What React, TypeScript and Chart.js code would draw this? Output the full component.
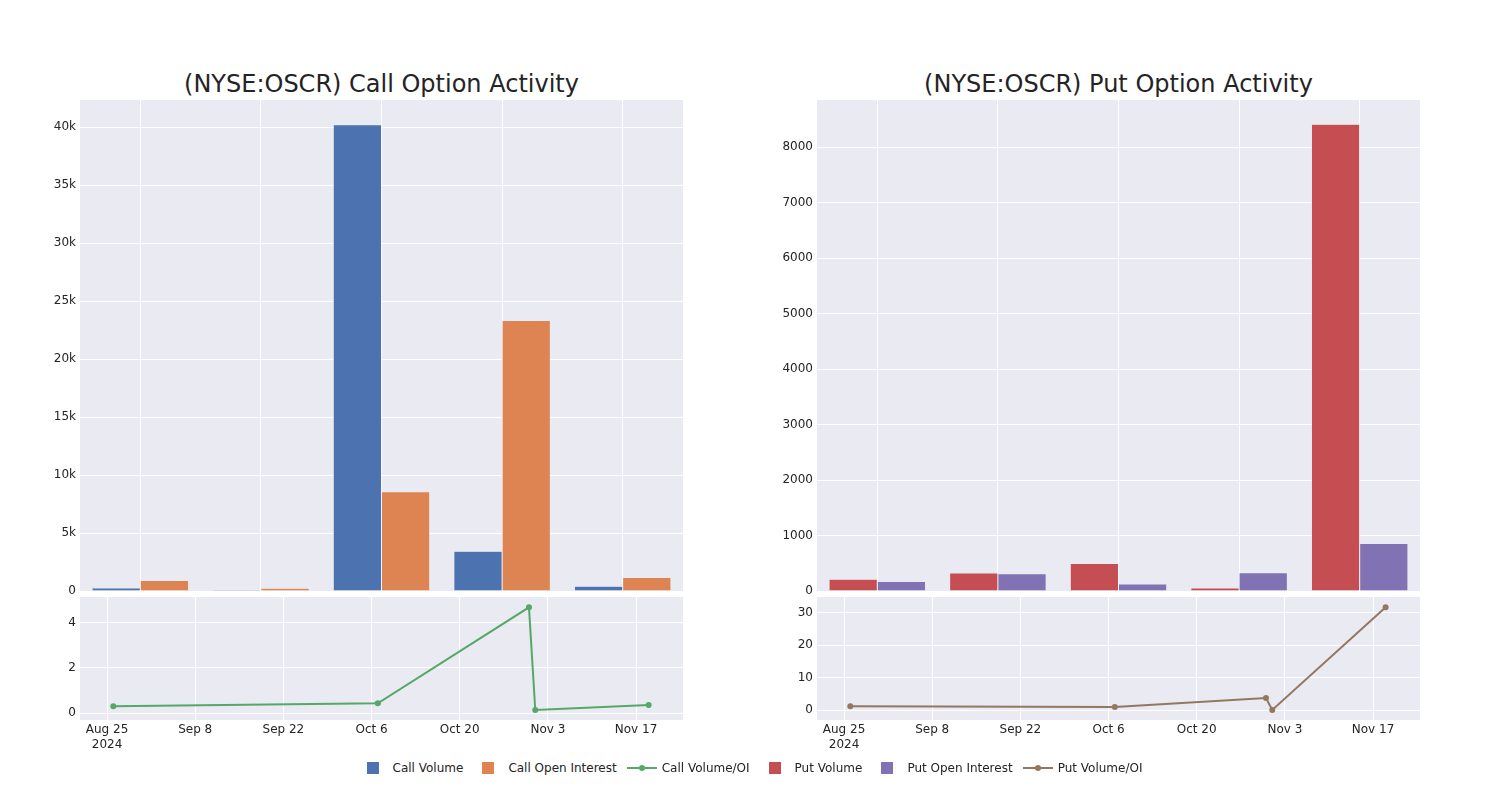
import React, { useEffect, useRef } from 'react';
import { Chart, registerables } from 'chart.js';

Chart.register(...registerables);

// ---------------- data ----------------
const barCategories = ['2024-08-26', '2024-10-07', '2024-10-31', '2024-11-01', '2024-11-19'];
const callVolume = [265, 100, 40200, 3420, 420];
const callOpenInterest = [900, 230, 8560, 23330, 1170];
const putVolume = [211, 325, 494, 55, 8414];
const putOpenInterest = [170, 313, 127, 331, 855];

const ratioDates = ['2024-08-26', '2024-10-07', '2024-10-31', '2024-11-01', '2024-11-19'];
const callRatio = [0.31, 0.44, 4.67, 0.145, 0.365];
const putRatio = [1.22, 1.0, 3.76, 0.1, 31.6];

const dateTicks = ['2024-08-25', '2024-09-08', '2024-09-22', '2024-10-06', '2024-10-20', '2024-11-03', '2024-11-17'];
const callBarTicks = [0, 5000, 10000, 15000, 20000, 25000, 30000, 35000, 40000];
const putBarTicks = [0, 1000, 2000, 3000, 4000, 5000, 6000, 7000, 8000];
const callRatioTicks = [0, 2, 4];
const putRatioTicks = [0, 10, 20, 30];

const dateRange = ['2024-08-20T17:00:00Z', '2024-11-24T11:00:00Z'];
const callBarRange = [0, 42340];
const putBarRange = [0, 8853];
const callRatioRange = [-0.295, 5.125];
const putRatioRange = [-2.97, 34.77];

// ---------------- styles ----------------
const COLORS = {
  callVol: '#4C72B0',
  callOI: '#DD8452',
  callRatio: '#55A868',
  putVol: '#C44E52',
  putOI: '#8172B3',
  putRatio: '#937860',
};
const PLOT_BG = '#EAEAF2';
const TEXT = 'rgb(36,36,36)';
const FONT = 'DejaVu Sans';
const MONTHS = ['Jan', 'Feb', 'Mar', 'Apr', 'May', 'Jun', 'Jul', 'Aug', 'Sep', 'Oct', 'Nov', 'Dec'];

const bgPlugin = {
  id: 'plotBg',
  beforeDraw(chart: any) {
    const { ctx, chartArea } = chart;
    if (!chartArea) return;
    ctx.save();
    ctx.fillStyle = PLOT_BG;
    ctx.fillRect(chartArea.left, chartArea.top, chartArea.right - chartArea.left, chartArea.bottom - chartArea.top);
    ctx.restore();
  },
};

const fixTicks = (vals: number[]) => (scale: any) => {
  scale.ticks = vals.map((v) => ({ value: v }));
};

function barConfig(labels: string[], vol: number[], oi: number[], volLabel: string, oiLabel: string, volColor: string, oiColor: string, range: number[], ticks: number[], fmt: (v: number) => string) {
  return {
    type: 'bar',
    data: {
      labels,
      datasets: [
        { label: volLabel, data: vol, backgroundColor: volColor, borderColor: PLOT_BG, borderWidth: 0.5, categoryPercentage: 0.8, barPercentage: 1.0 },
        { label: oiLabel, data: oi, backgroundColor: oiColor, borderColor: PLOT_BG, borderWidth: 0.5, categoryPercentage: 0.8, barPercentage: 1.0 },
      ],
    },
    options: {
      responsive: false,
      animation: false,
      layout: { autoPadding: false, padding: { top: 12, bottom: 12, left: 0, right: 0 } },
      plugins: { legend: { display: false }, tooltip: { enabled: false }, title: { display: false } },
      scales: {
        x: {
          type: 'category',
          offset: true,
          grid: { color: '#ffffff', lineWidth: 1, offset: false, drawTicks: false },
          border: { display: false },
          ticks: { display: false },
          afterFit: (s: any) => { s.height = 0; s.paddingLeft = 0; s.paddingRight = 0; },
        },
        y: {
          type: 'linear',
          min: range[0],
          max: range[1],
          grid: { color: '#ffffff', lineWidth: 1, drawTicks: false },
          border: { display: false },
          afterBuildTicks: fixTicks(ticks),
          ticks: { padding: 4, color: TEXT, font: { family: FONT, size: 12 }, callback: (v: any) => fmt(Number(v)) },
          afterFit: (s: any) => { s.width = 60; },
        },
      },
    },
    plugins: [bgPlugin],
  };
}

function lineConfig(label: string, dates: string[], vals: number[], color: string, range: number[], ticks: number[]) {
  const pts = dates.map((d, i) => ({ x: Date.parse(d + 'T00:00:00Z'), y: vals[i] }));
  const tickVals = dateTicks.map((d) => Date.parse(d + 'T00:00:00Z'));
  return {
    type: 'line',
    data: {
      datasets: [
        {
          label,
          data: pts,
          borderColor: color,
          backgroundColor: color,
          borderWidth: 2,
          pointRadius: 3,
          pointBorderWidth: 0,
          pointBackgroundColor: color,
          tension: 0,
        },
      ],
    },
    options: {
      responsive: false,
      animation: false,
      layout: { autoPadding: false, padding: { top: 12, bottom: 0, left: 0, right: 0 } },
      plugins: { legend: { display: false }, tooltip: { enabled: false }, title: { display: false } },
      scales: {
        x: {
          type: 'linear',
          min: Date.parse(dateRange[0]),
          max: Date.parse(dateRange[1]),
          grid: { color: '#ffffff', lineWidth: 1, drawTicks: false },
          border: { display: false },
          afterBuildTicks: fixTicks(tickVals),
          ticks: {
            padding: 3,
            maxRotation: 0,
            autoSkip: false,
            color: TEXT,
            font: { family: FONT, size: 12 },
            callback: (v: any, i: number) => {
              const d = new Date(Number(v));
              const s = `${MONTHS[d.getUTCMonth()]} ${d.getUTCDate()}`;
              return i === 0 ? [s, String(d.getUTCFullYear())] : s;
            },
          },
          afterFit: (s: any) => { s.height = 40; s.paddingLeft = 0; s.paddingRight = 0; },
        },
        y: {
          type: 'linear',
          min: range[0],
          max: range[1],
          grid: { color: '#ffffff', lineWidth: 1, drawTicks: false },
          border: { display: false },
          afterBuildTicks: fixTicks(ticks),
          ticks: { padding: 4, color: TEXT, font: { family: FONT, size: 12 }, callback: (v: any) => String(v) },
          afterFit: (s: any) => { s.width = 60; },
        },
      },
    },
    plugins: [bgPlugin],
  };
}

function ChartCanvas({ make, left, top, width, height }: { make: () => any; left: number; top: number; width: number; height: number }) {
  const ref = useRef<HTMLCanvasElement | null>(null);
  useEffect(() => {
    if (!ref.current) return;
    const chart = new Chart(ref.current, make());
    return () => chart.destroy();
  }, []);
  return (
    <canvas
      ref={ref}
      width={width}
      height={height}
      style={{ position: 'absolute', left, top, width, height }}
    />
  );
}

function LegendItem({ label, color, kind }: { label: string; color: string; kind: 'bar' | 'line' }) {
  return (
    <div style={{ display: 'flex', alignItems: 'center', marginRight: 5 }}>
      <div style={{ width: 40, height: 16, display: 'flex', alignItems: 'center', justifyContent: 'center' }}>
        {kind === 'bar' ? (
          <div style={{ width: 12, height: 12, background: color }} />
        ) : (
          <svg width={30} height={12}>
            <line x1={0} y1={6} x2={30} y2={6} stroke={color} strokeWidth={2} />
            <circle cx={15} cy={6} r={3} fill={color} />
          </svg>
        )}
      </div>
      <span style={{ whiteSpace: 'nowrap' }}>{label}</span>
    </div>
  );
}

const titleStyle = (center: number): React.CSSProperties => ({
  position: 'absolute',
  top: 72,
  left: center - 300,
  width: 600,
  textAlign: 'center',
  fontFamily: FONT,
  fontSize: 24,
  lineHeight: '24px',
  color: TEXT,
  whiteSpace: 'nowrap',
});

export default function App() {
  const callFmt = (v: number) => (v === 0 ? '0' : `${v / 1000}k`);
  const putFmt = (v: number) => String(v);
  return (
    <div style={{ position: 'absolute', left: 0, top: 0, width: 1500, height: 800, background: '#ffffff', overflow: 'hidden' }}>
      <div style={titleStyle(381.5)}>(NYSE:OSCR) Call Option Activity</div>
      <div style={titleStyle(1118.5)}>(NYSE:OSCR) Put Option Activity</div>

      <ChartCanvas
        left={20}
        top={88}
        width={663}
        height={515}
        make={() => barConfig(barCategories, callVolume, callOpenInterest, 'Call Volume', 'Call Open Interest', COLORS.callVol, COLORS.callOI, callBarRange, callBarTicks, callFmt)}
      />
      <ChartCanvas
        left={20}
        top={585}
        width={663}
        height={175}
        make={() => lineConfig('Call Volume/OI', ratioDates, callRatio, COLORS.callRatio, callRatioRange, callRatioTicks)}
      />
      <ChartCanvas
        left={757}
        top={88}
        width={663}
        height={515}
        make={() => barConfig(barCategories, putVolume, putOpenInterest, 'Put Volume', 'Put Open Interest', COLORS.putVol, COLORS.putOI, putBarRange, putBarTicks, putFmt)}
      />
      <ChartCanvas
        left={757}
        top={585}
        width={663}
        height={175}
        make={() => lineConfig('Put Volume/OI', ratioDates, putRatio, COLORS.putRatio, putRatioRange, putRatioTicks)}
      />

      <div
        style={{
          position: 'absolute',
          left: 0,
          top: 760,
          width: 1500,
          height: 16,
          display: 'flex',
          justifyContent: 'center',
          alignItems: 'center',
          fontFamily: FONT,
          fontSize: 12,
          lineHeight: '16px',
          color: TEXT,
        }}
      >
        <LegendItem label="Call Volume" color={COLORS.callVol} kind="bar" />
        <LegendItem label="Call Open Interest" color={COLORS.callOI} kind="bar" />
        <LegendItem label="Call Volume/OI" color={COLORS.callRatio} kind="line" />
        <LegendItem label="Put Volume" color={COLORS.putVol} kind="bar" />
        <LegendItem label="Put Open Interest" color={COLORS.putOI} kind="bar" />
        <LegendItem label="Put Volume/OI" color={COLORS.putRatio} kind="line" />
      </div>
    </div>
  );
}
